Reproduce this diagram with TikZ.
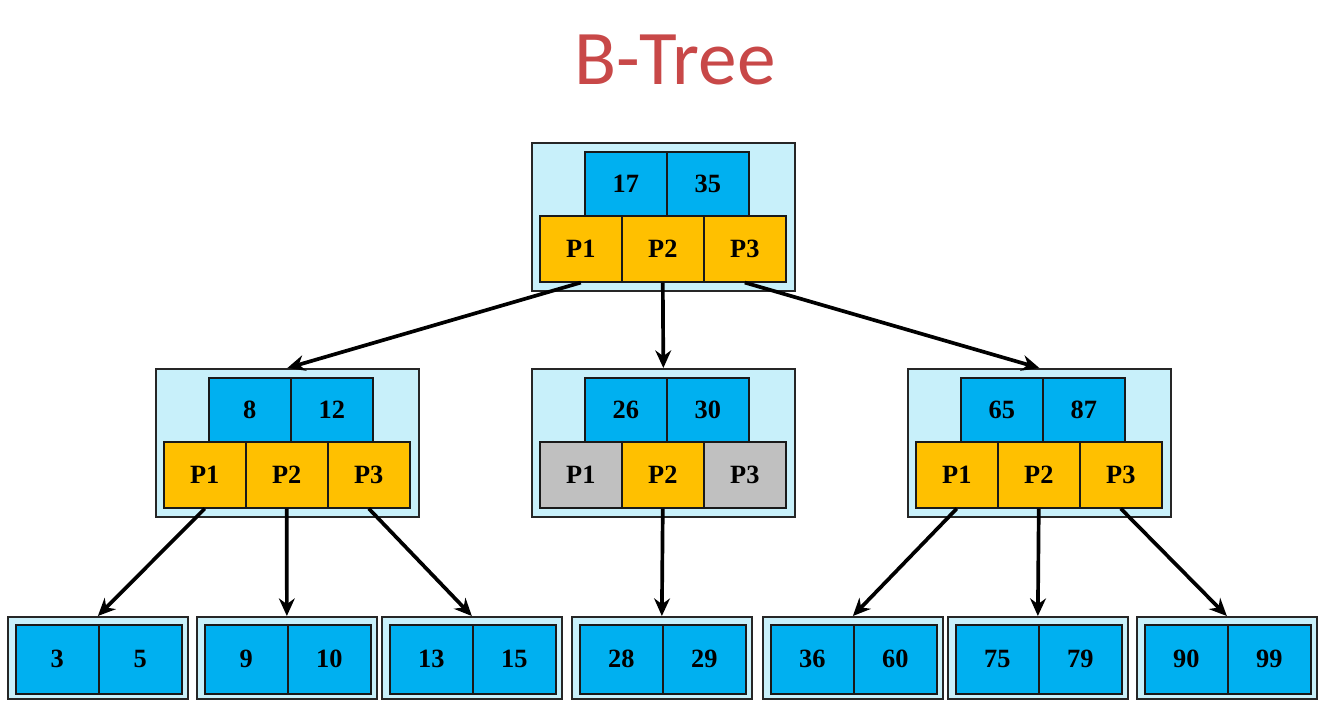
\documentclass[tikz,border=0pt]{standalone}
\usepackage{fontspec}
\usepackage{tikz}
\usepackage{xcolor}
\usetikzlibrary{calc,arrows.meta}
\setmainfont{Liberation Serif}
\newfontfamily\titlefont{Carlito}

\definecolor{boxcyan}{RGB}{200,240,250}
\definecolor{keyblue}{RGB}{0,176,240}
\definecolor{ptrorange}{RGB}{255,192,0}
\definecolor{ptrgray}{RGB}{192,192,192}
\definecolor{titlered}{RGB}{200,72,72}

\begin{document}
\begin{tikzpicture}[x=0.02cm,y=-0.02cm]
        \tikzstyle{outer}=[draw=black!85,fill=boxcyan,line width=1pt,inner sep=0pt,minimum width=5.26cm,minimum height=2.96cm,anchor=north west]
        \tikzstyle{key}=[draw=black!90,fill=keyblue,line width=0.9pt,inner sep=0pt,minimum width=1.64cm,minimum height=1.28cm,anchor=north west,font=\bfseries\fontsize{15}{18}\selectfont]
        \tikzstyle{ptr}=[key,fill=ptrorange,minimum height=1.32cm]
        \tikzstyle{noptr}=[ptr,fill=ptrgray]
        \tikzstyle{leaf}=[outer,minimum width=3.6cm,minimum height=1.64cm]
        \tikzstyle{lkey}=[key,minimum width=1.66cm,minimum height=1.38cm]
        \tikzstyle{arrow}=[line width=2.1pt,-{Stealth[length=10pt,width=9pt]}]

        \useasboundingbox (0,0) rectangle (1336,707);
        \node[text=titlered,font=\titlefont\fontsize{44}{50}\selectfont] (title) at (675,60) {B-Tree};

        % root
        \node[outer] (R) at (531,142) {};
        \node[key] (R-k1) at ($(R.north west)+(53,9)$) {17};
        \node[key] (R-k2) at ($(R-k1.north west)+(82,0)$) {35};
        \node[ptr] (R-p1) at ($(R.north west)+(8,73)$) {P1};
        \node[ptr] (R-p2) at ($(R-p1.north west)+(82,0)$) {P2};
        \node[ptr] (R-p3) at ($(R-p2.north west)+(82,0)$) {P3};

        % second level
        \node[outer] (A) at (155,368) {};
        \node[key] (A-k1) at ($(A.north west)+(53,9)$) {8};
        \node[key] (A-k2) at ($(A-k1.north west)+(82,0)$) {12};
        \node[ptr] (A-p1) at ($(A.north west)+(8,73)$) {P1};
        \node[ptr] (A-p2) at ($(A-p1.north west)+(82,0)$) {P2};
        \node[ptr] (A-p3) at ($(A-p2.north west)+(82,0)$) {P3};

        \node[outer] (B) at (531,368) {};
        \node[key] (B-k1) at ($(B.north west)+(53,9)$) {26};
        \node[key] (B-k2) at ($(B-k1.north west)+(82,0)$) {30};
        \node[noptr] (B-p1) at ($(B.north west)+(8,73)$) {P1};
        \node[ptr] (B-p2) at ($(B-p1.north west)+(82,0)$) {P2};
        \node[noptr] (B-p3) at ($(B-p2.north west)+(82,0)$) {P3};

        \node[outer] (C) at (907,368) {};
        \node[key] (C-k1) at ($(C.north west)+(53,9)$) {65};
        \node[key] (C-k2) at ($(C-k1.north west)+(82,0)$) {87};
        \node[ptr] (C-p1) at ($(C.north west)+(8,73)$) {P1};
        \node[ptr] (C-p2) at ($(C-p1.north west)+(82,0)$) {P2};
        \node[ptr] (C-p3) at ($(C-p2.north west)+(82,0)$) {P3};

        % leaves
        \foreach \name/\x/\a/\b in {L1/7/3/5, L2/196/9/10, L3/381/13/15, L4/571/28/29,
                L5/762/36/60, L6/947/75/79, L7/1136/90/99} {
            \node[leaf] (\name) at (\x,616) {};
            \node[lkey] (\name-k1) at ($(\name.north west)+(8,8)$) {\a};
            \node[lkey] (\name-k2) at ($(\name-k1.north west)+(83,0)$) {\b};
        }

        \draw[arrow] (R-p1.south) -- (A.north);
        \draw[arrow] (R-p2.south) -- (B.north);
        \draw[arrow] (R-p3.south) -- (C.north);

        \draw[arrow] (A-p1.south) -- (L1.north);
        \draw[arrow] (A-p2.south) -- (L2.north);
        \draw[arrow] (A-p3.south) -- (L3.north);
        \draw[arrow] (B-p2.south) -- (L4.north);
        \draw[arrow] (C-p1.south) -- (L5.north);
        \draw[arrow] (C-p2.south) -- (L6.north);
        \draw[arrow] (C-p3.south) -- (L7.north);

\end{tikzpicture}
\end{document}
